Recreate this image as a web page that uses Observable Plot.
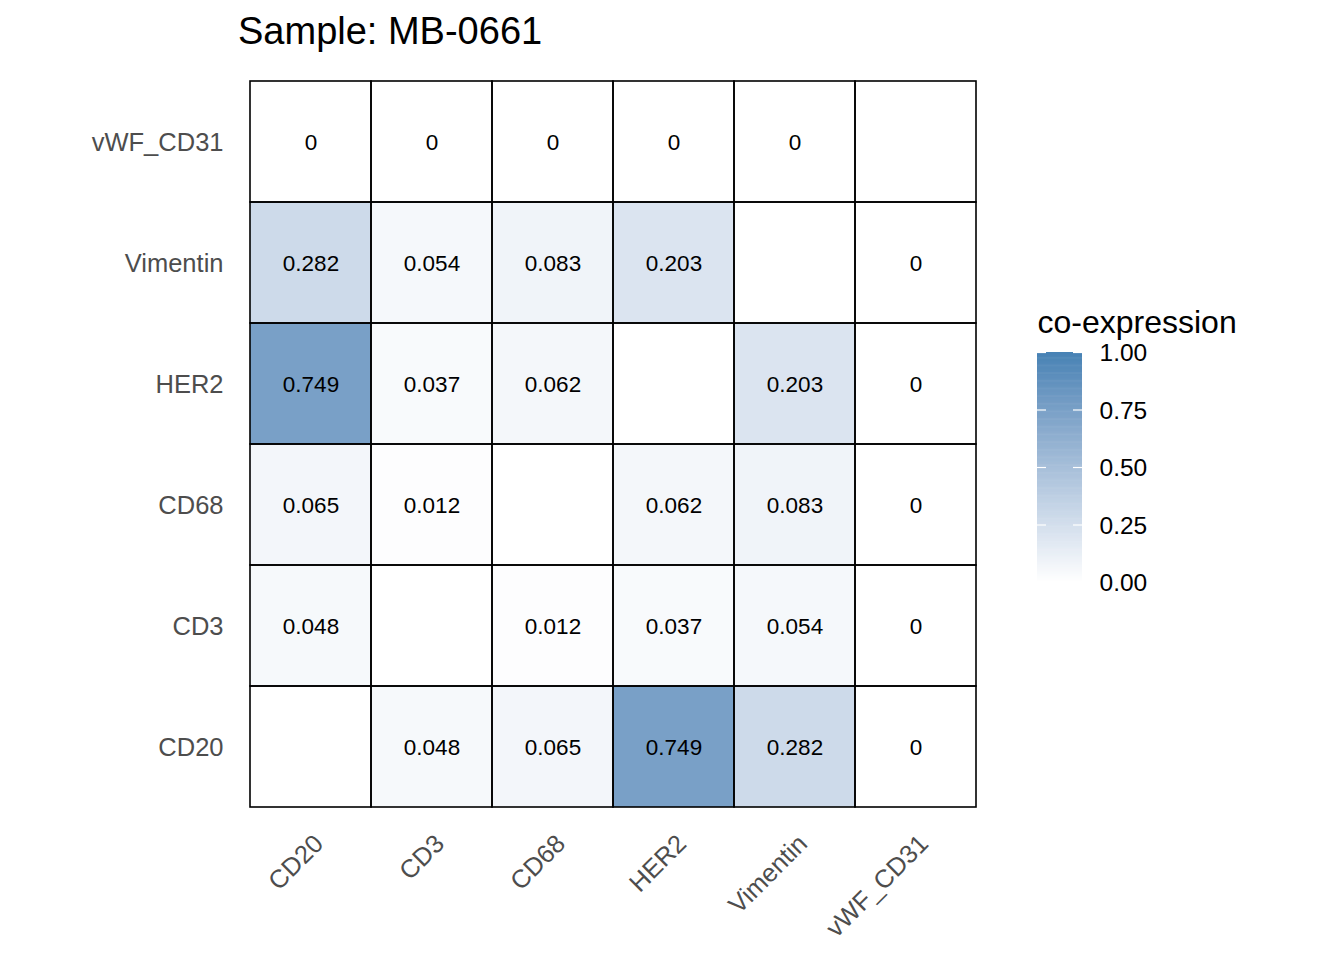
<!DOCTYPE html>
<html><head><meta charset="utf-8">
<script src="https://cdn.jsdelivr.net/npm/d3@7"></script>
<script src="https://cdn.jsdelivr.net/npm/@observablehq/plot@0.6"></script>
<style>
body{margin:0;background:#fff;font-family:"Liberation Sans",Arial,sans-serif;}
#wrap{position:relative;width:1344px;height:960px;overflow:hidden;}
#main{position:absolute;left:0;top:0;}
#title{position:absolute;left:238px;top:9px;font-size:38px;color:#000;line-height:1.2;}
#legend{position:absolute;left:1030px;top:300px;}
</style></head><body>
<div id="wrap"><div id="main"></div><div id="title">Sample: MB-0661</div><div id="legend"></div></div>
<script>
const markers = ["CD20","CD3","CD68","HER2","Vimentin","vWF_CD31"];
// rows: co-expression of row marker with each column marker (null = diagonal)
const rowCD20     = [null, 0.048, 0.065, 0.749, 0.282, 0];
const rowCD3      = [0.048, null, 0.012, 0.037, 0.054, 0];
const rowCD68     = [0.065, 0.012, null, 0.062, 0.083, 0];
const rowHER2     = [0.749, 0.037, 0.062, null, 0.203, 0];
const rowVimentin = [0.282, 0.054, 0.083, 0.203, null, 0];
const rowVWF      = [0, 0, 0, 0, 0, null];
const legendTicks = [0, 0.25, 0.5, 0.75, 1];

const matrix = [rowCD20, rowCD3, rowCD68, rowHER2, rowVimentin, rowVWF];
const cells = [];
matrix.forEach((row, i) => row.forEach((v, j) => cells.push({x: markers[j], y: markers[i], v})));
const valued = cells.filter(d => d.v != null);

const FONT = '"Liberation Sans", Arial, sans-serif';
const colorScale = {type: "linear", domain: [0, 1], range: ["white", "steelblue"], interpolate: "lab"};

const main = Plot.plot({
  width: 1344, height: 960,
  marginLeft: 250, marginRight: 368, marginTop: 81, marginBottom: 153,
  style: {fontFamily: FONT, background: "transparent"},
  x: {domain: markers, padding: 0, label: null},
  y: {domain: markers.slice().reverse(), padding: 0, label: null},
  color: colorScale,
  marks: [
    Plot.cell(cells, {x: "x", y: "y", fill: "white", inset: 0}),
    Plot.cell(valued, {x: "x", y: "y", fill: "v", inset: 0}),
    Plot.cell(cells, {x: "x", y: "y", fill: "none", stroke: "black", strokeWidth: 1.6, inset: 0}),
    Plot.text(valued, {x: "x", y: "y", text: d => String(d.v), fill: "black", fontSize: 22.5, dy: 1}),
    Plot.axisY({tickSize: 0, tickPadding: 27, fontSize: 25.5, fill: "#4d4d4d", label: null, dy: 1}),
    Plot.axisX({tickSize: 0, tickPadding: 32, tickRotate: -45, fontSize: 25.5, fill: "#4d4d4d", label: null, dx: 8})
  ]
});
document.getElementById("main").appendChild(main);

const stops = d3.range(0, 200).map(i => i / 200);
const legend = Plot.plot({
  width: 300, height: 320,
  marginLeft: 7, marginRight: 248, marginTop: 52, marginBottom: 38,
  style: {fontFamily: FONT, background: "transparent"},
  x: {domain: [0, 1], axis: null},
  y: {domain: [0, 1], axis: null},
  color: colorScale,
  marks: [
    Plot.rect(stops, {x1: 0, x2: 1, y1: d => d, y2: d => Math.min(1, d + 0.0075), fill: d => d + 0.0025}),
    Plot.ruleY(legendTicks, {x1: 0, x2: 0.2, stroke: "white", strokeWidth: 1.2}),
    Plot.ruleY(legendTicks, {x1: 0.8, x2: 1, stroke: "white", strokeWidth: 1.2}),
    Plot.axisY(legendTicks, {anchor: "right", tickSize: 0, tickPadding: 17, tickFormat: d3.format(".2f"), fontSize: 24.5, fill: "#000", label: null, dy: 1}),
    Plot.text(["co-expression"], {x: 0, y: 1, dy: -20, lineAnchor: "bottom", textAnchor: "start", fontSize: 32, fill: "#000"})
  ]
});
document.getElementById("legend").appendChild(legend);
</script>
</body></html>
